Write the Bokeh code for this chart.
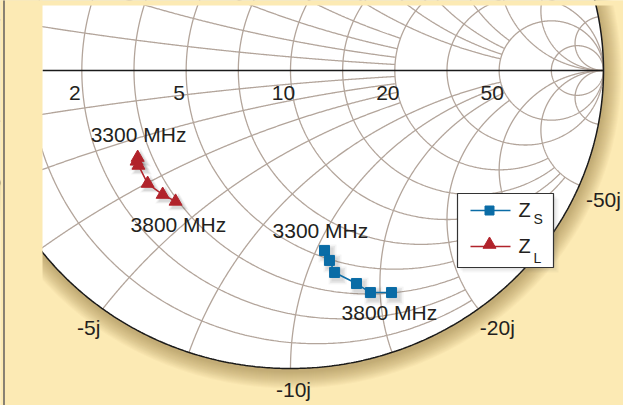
import numpy as np
from bokeh.plotting import figure
from bokeh.models import Range1d
from bokeh.embed import file_html
from bokeh.resources import INLINE
from bokeh.core.properties import value

# ---------------- data ----------------
Z0 = 10.0  # reference impedance (ohm)
grid_ohms = [10 / 11, 2, 10 / 3, 5, 50 / 7, 10, 14, 20, 30, 50, 110]
grid_limit_ohms = [20, 20, 20, 20, 50, 50, 50, 50, None, None, None]
r_tick_ohms = [2, 5, 10, 20, 50]
r_tick_labels = ["2", "5", "10", "20", "50"]
x_tick_ohms = [-5, -10, -20, -50]
x_tick_labels = ["-5j", "-10j", "-20j", "-50j"]

freq_mhz = [3300, 3400, 3500, 3600, 3700, 3800]
zs_real = [5.38, 4.93, 4.35, 3.92, 3.42, 3.36]
zs_imag = [-10.42, -10.87, -11.32, -12.61, -13.43, -14.70]
zl_real = [2.94, 2.87, 2.87, 2.86, 3.06, 3.26]
zl_imag = [-2.54, -2.63, -2.76, -3.35, -3.86, -4.26]

# ---------------- styles / layout ----------------
CREAM = "#FCEAB4"
GRID = "#B3A59B"
TXT = "#231F20"
BLUE = "#0A6CA6"
RED = "#B1232B"
FONT = value("Liberation Sans")
W, H = 623, 405
BASE = 8  # baseline correction (px) for 21px text

# pixel placement of the unit circle (centre and radii in px)
CX, CY, RX, RY = 290.0, 70.0, 313.0, 298.0


def gx(X):
    return (X - CX) / RX


def gy(Y):
    return (CY - Y) / RY


def gamma(r_ohm, x_ohm):
    z = (np.asarray(r_ohm) + 1j * np.asarray(x_ohm)) / Z0
    return (z - 1) / (z + 1)


p = figure(width=W, height=H, output_backend="svg", toolbar_location=None,
           x_range=Range1d(gx(0), gx(W)), y_range=Range1d(gy(H), gy(0)),
           min_border=0)
p.axis.visible = False
p.grid.visible = False
p.outline_line_color = None
p.background_fill_color = CREAM
p.border_fill_color = CREAM

# soft shadow around the chart disc
for k in range(1, 18):
    p.ellipse(x=gx(CX + 1), y=gy(CY + 3), width=2 + 2 * k / RX, height=2 + 2 * k / RY,
              fill_color="#8A7440", fill_alpha=0.035, line_color=None)

p.ellipse(x=0, y=0, width=2, height=2, fill_color="white", line_color=None)

# grid: constant-resistance circles and constant-reactance arcs
xs, ys = [], []
for v_ohm, lim in zip(grid_ohms, grid_limit_ohms):
    v = v_ohm / Z0
    c, rho = v / (v + 1), 1 / (v + 1)
    bmax = np.arctan((lim / Z0) / (v + 1)) if lim else np.pi / 2
    b = np.linspace(-bmax, bmax, 500)
    G = c + rho * np.exp(1j * (np.pi - 2 * b))
    xs.append(G.real)
    ys.append(G.imag)
    gmin = np.arctan(v / (lim / Z0 + 1)) if lim else 0.0
    gm = np.linspace(np.arctan(v), gmin, 500)
    for sgn in (1, -1):
        x = sgn * v
        G = 1 + 1j / x - (1j / x) * np.exp(-2j * sgn * gm)
        xs.append(G.real)
        ys.append(G.imag)
p.multi_line(xs=xs, ys=ys, line_color=GRID, line_width=1.3)

# outer circle and real axis
t = np.linspace(0, 2 * np.pi, 800)
p.line(np.cos(t), np.sin(t), line_color="#1A1A1A", line_width=1.5)
p.line([gx(42), 1], [0, 0], line_color="#1A1A1A", line_width=1.6)

# cream margin strips (left and top) and dark rule at the far left
p.quad(left=gx(-5), right=gx(42), bottom=gy(H + 5), top=gy(-5), fill_color=CREAM, line_color=None)
p.quad(left=gx(-5), right=gx(W + 5), bottom=gy(5), top=gy(-5), fill_color=CREAM, line_color=None)
p.line([gx(3.5), gx(3.5)], [gy(H + 5), gy(-5)], line_color="#6B6762", line_width=1.6)

# tick labels
gr = gamma(r_tick_ohms, 0)
p.text(x=gr.real, y=gr.imag, text=r_tick_labels, x_offset=-7, y_offset=30 - BASE,
       text_align="center", text_baseline="alphabetic", text_font=FONT,
       text_font_size="21px", text_color=TXT)
gxk = gamma(0, x_tick_ohms)
p.text(x=gxk.real, y=gxk.imag, text=x_tick_labels, x_offset=[-14, 3, 19, 24],
       y_offset=[27 - BASE, 29 - BASE, 27 - BASE, 22 - BASE], text_align="center",
       text_baseline="alphabetic", text_font=FONT, text_font_size="21px", text_color=TXT)

# series
gs = gamma(zs_real, zs_imag)
gl = gamma(zl_real, zl_imag)
sdx, sdy = 3 / RX, -3 / RY
for extra, a in ((8, 0.06), (5, 0.08), (2, 0.10)):
    p.scatter(gs.real + sdx, gs.imag + sdy, marker="square", size=10 + extra,
              fill_color="#555555", fill_alpha=a, line_color=None)
    p.scatter(gl.real + sdx, gl.imag + sdy, marker="triangle", size=13 + extra,
              fill_color="#555555", fill_alpha=a, line_color=None)
p.line(gs.real, gs.imag, line_color=BLUE, line_width=1.5)
p.scatter(gs.real, gs.imag, marker="square", size=10, fill_color=BLUE, line_color=BLUE)
p.line(gl.real, gl.imag, line_color=RED, line_width=1.5)
p.scatter(gl.real, gl.imag, marker="triangle", size=13, fill_color=RED, line_color=RED)

# frequency annotations
p.text(x=[gl.real[0], gl.real[-1], gs.real[0], gs.real[-1]],
       y=[gl.imag[0], gl.imag[-1], gs.imag[0], gs.imag[-1]],
       text=[f"{freq_mhz[0]} MHz", f"{freq_mhz[-1]} MHz", f"{freq_mhz[0]} MHz", f"{freq_mhz[-1]} MHz"],
       x_offset=[-47, -45, -52, -50],
       y_offset=[-15 - BASE, 31 - BASE, -12 - BASE, 28 - BASE],
       text_align="left", text_baseline="alphabetic", text_font=FONT,
       text_font_size="21px", text_color=TXT)

# legend (drawn by hand for subscripts)
for k, a in ((5, 0.05), (3, 0.07), (1, 0.09)):
    p.quad(left=gx(457 + k), right=gx(553 + k), top=gy(193 + k), bottom=gy(267 + k),
           fill_color="#555555", fill_alpha=a, line_color=None)
p.quad(left=gx(457), right=gx(553), top=gy(193), bottom=gy(267),
       fill_color="white", line_color="#333333", line_width=1.2)
p.line([gx(470), gx(510)], [gy(210), gy(210)], line_color=BLUE, line_width=1.5)
p.scatter([gx(489)], [gy(210)], marker="square", size=9, fill_color=BLUE, line_color=BLUE)
p.line([gx(470), gx(510)], [gy(246), gy(246)], line_color=RED, line_width=1.5)
p.scatter([gx(489)], [gy(244)], marker="triangle", size=13, fill_color=RED, line_color=RED)
p.text(x=[gx(518), gx(518)], y=[gy(217), gy(253)], text=["Z", "Z"], text_align="left",
       y_offset=-8, text_baseline="alphabetic", text_font=FONT, text_font_size="20px",
       text_color=TXT)
p.text(x=[gx(533), gx(533)], y=[gy(223), gy(262)], text=["S", "L"], text_align="left",
       y_offset=-5, text_baseline="alphabetic", text_font=FONT, text_font_size="14px",
       text_color=TXT)

open("out.html", "w").write(file_html(p, INLINE, title="Smith chart"))
